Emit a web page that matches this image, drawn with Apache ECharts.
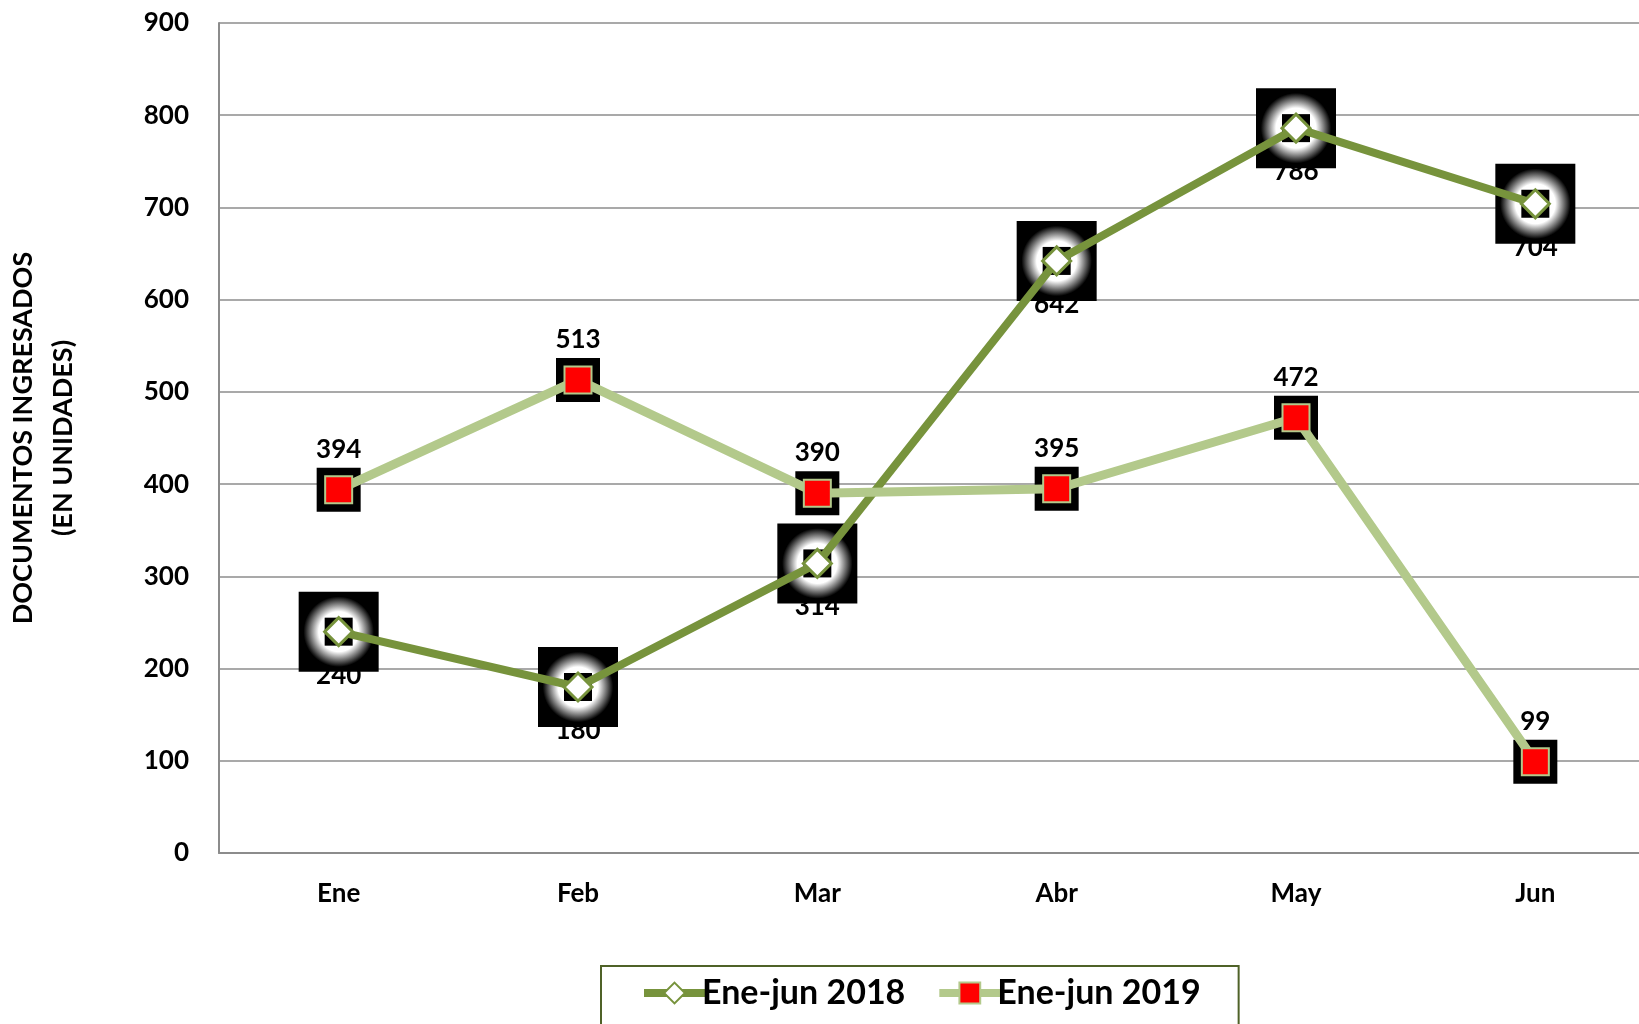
<!DOCTYPE html>
<html>
<head>
<meta charset="utf-8">
<script src="https://cdn.jsdelivr.net/npm/echarts@6/dist/echarts.min.js"></script>
<style>
  html, body { margin: 0; padding: 0; background: #fff; }
  #chart { width: 1639px; height: 1024px; }
</style>
</head>
<body>
<div id="chart"></div>
<script>
// datos
var meses = ['Ene', 'Feb', 'Mar', 'Abr', 'May', 'Jun'];
var datos2018 = [240, 180, 314, 642, 786, 704];
var datos2019 = [394, 513, 390, 395, 472, 99];
var nombres = ['Ene-jun 2018', 'Ene-jun 2019'];

var verdeOscuro = '#77933c';
var verdeClaro = '#b3c98b';
var fuente = 'Lato';

var chart = echarts.init(document.getElementById('chart'));

var option = {
  backgroundColor: '#fff',
  animation: false,
  textStyle: { fontFamily: fuente, fontWeight: 'bold', color: '#000' },
  grid: { left: 219, top: 23, width: 1436, height: 830, outerBoundsMode: 'none', containLabel: false },
  legend: {
    data: nombres,
    left: 601,
    top: 966,
    padding: [10, 38, 40, 39],
    itemGap: 30,
    itemWidth: 61,
    itemHeight: 26,
    lineStyle: { width: 8 },
    borderColor: '#4f6228',
    borderWidth: 2,
    textStyle: { fontSize: 34, fontWeight: 'bold', fontFamily: fuente, color: '#000', padding: [0, 0, 0, -8] }
  },
  xAxis: {
    type: 'category',
    data: meses,
    boundaryGap: true,
    axisLine: { lineStyle: { color: '#8c8c8c', width: 2 } },
    axisTick: { show: false },
    axisLabel: { fontSize: 26, fontWeight: 'bold', color: '#000', margin: 28 }
  },
  yAxis: {
    type: 'value',
    min: 0,
    max: 900,
    interval: 100,
    name: 'DOCUMENTOS INGRESADOS\n(EN UNIDADES)',
    nameLocation: 'middle',
    nameGap: 136,
    nameRotate: 90,
    nameTextStyle: { fontSize: 27, fontWeight: 'bold', color: '#000', lineHeight: 40, fontFamily: fuente },
    axisLine: { show: true, lineStyle: { color: '#8c8c8c', width: 2 } },
    axisTick: { show: false },
    axisLabel: { fontSize: 26, fontWeight: 'bold', color: '#000', margin: 30 },
    splitLine: { lineStyle: { color: '#8c8c8c', width: 1.5 } }
  },
  series: [
    // etiquetas 2018 (debajo, tapadas en parte por el cuadro negro)
    {
      type: 'scatter',
      data: datos2018,
      symbolSize: 1,
      itemStyle: { color: 'rgba(0,0,0,0)', opacity: 1 },
      z: 0,
      silent: true,
      label: { show: true, position: 'bottom', distance: 30, fontSize: 26, fontWeight: 'bold', color: '#000', fontFamily: fuente }
    },
    // cuadro grande con brillo
    {
      type: 'scatter',
      data: datos2018,
      symbol: 'rect',
      symbolSize: 80,
      z: 1,
      silent: true,
      itemStyle: {
        opacity: 1,
        color: {
          type: 'radial', x: 0.5, y: 0.5, r: 0.5,
          colorStops: [
            { offset: 0, color: '#fff' },
            { offset: 0.5, color: '#fff' },
            { offset: 0.88, color: '#000' },
            { offset: 1, color: '#000' }
          ]
        }
      }
    },
    {
      type: 'scatter',
      data: datos2018,
      symbol: 'rect',
      symbolSize: 28,
      z: 2,
      silent: true,
      itemStyle: { color: '#000', opacity: 1 }
    },
    // cuadro negro 2019
    {
      type: 'scatter',
      data: datos2019,
      symbol: 'rect',
      symbolSize: 44,
      z: 1,
      silent: true,
      itemStyle: { color: '#000', opacity: 1 }
    },
    {
      name: nombres[0],
      type: 'line',
      data: datos2018,
      z: 3,
      symbol: 'diamond',
      symbolSize: 28,
      lineStyle: { color: verdeOscuro, width: 8 },
      itemStyle: { color: '#fff', borderColor: verdeOscuro, borderWidth: 3 }
    },
    {
      name: nombres[1],
      type: 'line',
      data: datos2019,
      z: 3,
      symbol: 'rect',
      symbolSize: 27,
      lineStyle: { color: verdeClaro, width: 9 },
      itemStyle: { color: '#ff0000', borderColor: verdeClaro, borderWidth: 2 },
      label: { show: true, position: 'top', distance: 13, fontSize: 26, fontWeight: 'bold', color: '#000', fontFamily: fuente }
    }
  ]
};

chart.setOption(option);
</script>
</body>
</html>
